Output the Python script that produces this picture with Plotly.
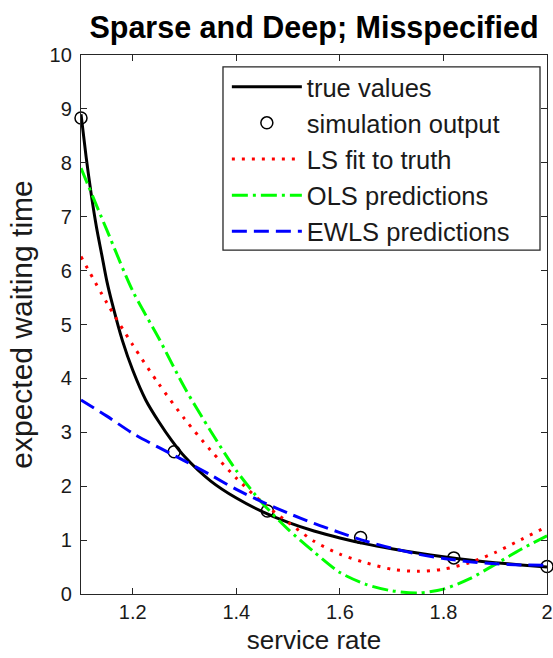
import plotly.graph_objects as go

# ---- data ----
true_x = [1.10, 1.11, 1.12, 1.13, 1.14, 1.15, 1.16, 1.18, 1.20, 1.225, 1.25, 1.275,
          1.30, 1.35, 1.40, 1.45, 1.50, 1.55, 1.60, 1.65, 1.70, 1.75, 1.80, 1.85,
          1.90, 1.95, 2.00]
true_y = [8.9, 8.1, 7.4, 6.8, 6.3, 5.8, 5.4, 4.7, 4.15, 3.6, 3.2, 2.85,
          2.55, 2.1, 1.78, 1.53, 1.33, 1.17, 1.04, 0.93, 0.84, 0.76, 0.69, 0.63,
          0.58, 0.54, 0.50]

sim_x = [1.10, 1.28, 1.46, 1.64, 1.82, 2.00]
sim_y = [8.83, 2.64, 1.54, 1.05, 0.67, 0.51]

fit_x = [1.10, 1.15, 1.20, 1.25, 1.30, 1.35, 1.40, 1.45, 1.50, 1.55, 1.60, 1.65,
         1.70, 1.75, 1.80, 1.85, 1.90, 1.95, 2.00]
ls_y = [6.26, 5.40, 4.62, 3.90, 3.25, 2.67, 2.15, 1.70, 1.33, 0.98, 0.74, 0.58,
        0.46, 0.42, 0.46, 0.58, 0.77, 1.01, 1.25]
ols_y = [7.90, 6.75, 5.62, 4.75, 3.83, 3.03, 2.29, 1.69, 1.20, 0.78, 0.40, 0.18,
         0.06, 0.02, 0.09, 0.28, 0.55, 0.83, 1.08]
ewls_y = [3.60, 3.30, 2.98, 2.72, 2.47, 2.21, 1.94, 1.71, 1.50, 1.31, 1.14, 0.98,
          0.85, 0.74, 0.66, 0.60, 0.56, 0.54, 0.53]

x_ticks = [1.2, 1.4, 1.6, 1.8, 2.0]
x_tick_labels = ["1.2", "1.4", "1.6", "1.8", "2"]
y_ticks = list(range(0, 11))

FONT = "Arial, 'Liberation Sans', Helvetica, sans-serif"
TXT = "#1a1a1a"
AX = "#262626"

fig = go.Figure()
fig.add_trace(go.Scatter(x=true_x, y=true_y, mode="lines", name="true values",
                         line=dict(color="black", width=3, shape="spline", smoothing=0.8)))
fig.add_trace(go.Scatter(x=sim_x, y=sim_y, mode="markers", name="simulation output",
                         cliponaxis=False,
                         marker=dict(symbol="circle-open", size=12, color="black",
                                     line=dict(width=1.5, color="black"))))
fig.add_trace(go.Scatter(x=fit_x, y=ls_y, mode="lines", name="LS fit to truth",
                         line=dict(color="#ff0000", width=3, dash="3px,7px",
                                   shape="spline", smoothing=0.8)))
fig.add_trace(go.Scatter(x=fit_x, y=ols_y, mode="lines", name="OLS predictions",
                         line=dict(color="#00ff00", width=3, dash="16px,5px,3px,5px",
                                   shape="spline", smoothing=0.8)))
fig.add_trace(go.Scatter(x=fit_x, y=ewls_y, mode="lines", name="EWLS predictions",
                         line=dict(color="#0000ff", width=3, dash="15px,7px",
                                   shape="spline", smoothing=0.8)))

axis_common = dict(showline=True, linecolor=AX, linewidth=1.3, mirror="allticks",
                   ticks="inside", ticklen=6, tickcolor=AX, tickwidth=1.2,
                   showgrid=False, zeroline=False,
                   tickfont=dict(family=FONT, size=20, color=TXT))

fig.update_xaxes(range=[1.1, 2.0], tickvals=x_ticks, ticktext=x_tick_labels,
                 title=dict(text="service rate", font=dict(family=FONT, size=26, color=TXT),
                            standoff=8),
                 **axis_common)
fig.update_yaxes(range=[0, 10], tickvals=y_ticks, ticklabelstandoff=4,
                 title=dict(text="expected waiting time", font=dict(family=FONT, size=30, color=TXT),
                            standoff=8),
                 **axis_common)

# legend frame (MATLAB-style box)
fig.add_shape(type="rect", xref="paper", yref="paper",
              x0=0.3047, x1=0.985, y0=0.638, y1=0.978,
              fillcolor="white", line=dict(color=AX, width=1.3), layer="above")

fig.update_layout(
    width=553, height=658,
    margin=dict(l=81, r=6, t=55, b=64, autoexpand=False),
    paper_bgcolor="white", plot_bgcolor="white",
    title=dict(text="<b>Sparse and Deep; Misspecified</b>", x=314 / 553, xanchor="center",
               xref="container", y=1 - 27 / 658, yanchor="middle", yref="container",
               font=dict(family=FONT, size=30.5, color="black")),
    legend=dict(x=0.313, y=0.984, xanchor="left", yanchor="top",
                bgcolor="rgba(0,0,0,0)", borderwidth=0,
                font=dict(family=FONT, size=25.5, color=TXT),
                itemwidth=70, tracegroupgap=0),
    showlegend=True,
)

fig.write_html("out.html")
